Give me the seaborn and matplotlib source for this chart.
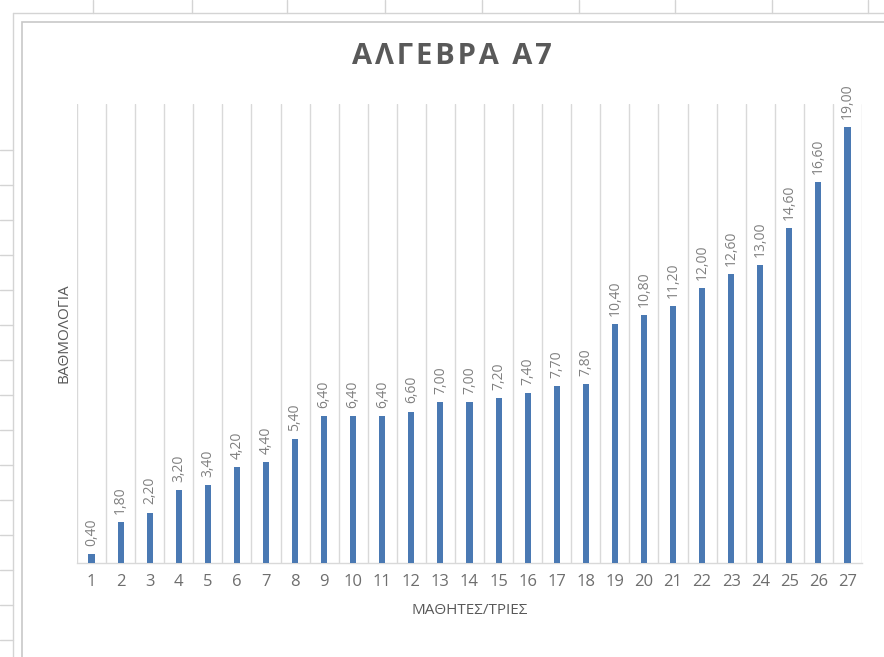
import matplotlib
matplotlib.use("Agg")
import matplotlib.pyplot as plt
import matplotlib.lines as mlines
import matplotlib.patches as mpatches
from matplotlib.ticker import FixedLocator
import seaborn as sns
import pandas as pd

students = [str(i) for i in range(1, 28)]
grades = [0.40, 1.80, 2.20, 3.20, 3.40, 4.20, 4.40, 5.40, 6.40, 6.40, 6.40, 6.60,
          7.00, 7.00, 7.20, 7.40, 7.70, 7.80, 10.40, 10.80, 11.20, 12.00, 12.60,
          13.00, 14.60, 16.60, 19.00]
title = "ΑΛΓΕΒΡΑ Α7"
xlabel = "ΜΑΘΗΤΕΣ/ΤΡΙΕΣ"
ylabel = "ΒΑΘΜΟΛΟΓΙΑ"

df = pd.DataFrame({"student": students, "grade": grades})

sns.set_theme(style="white")
plt.rcParams['font.family'] = ['Open Sans', 'DejaVu Sans']

W, H = 884, 657
fig = plt.figure(figsize=(W / 100, H / 100), dpi=100)
fig.patch.set_facecolor("white")

# spreadsheet-like background decorations
grid_c = "#D4D4D4"
for x in [93, 192, 287, 385, 482, 579, 675, 772, 868]:
    fig.add_artist(mlines.Line2D([x / W, x / W], [1, 1 - 13 / H], color=grid_c, lw=1))
for y in range(150, 657, 35):
    fig.add_artist(mlines.Line2D([0, 13 / W], [1 - y / H, 1 - y / H], color=grid_c, lw=1))
fig.add_artist(mlines.Line2D([13 / W, 13 / W], [0, 1 - 13 / H], color=grid_c, lw=1))
fig.add_artist(mlines.Line2D([13 / W, 1], [1 - 13 / H, 1 - 13 / H], color=grid_c, lw=1))
fig.add_artist(mpatches.Rectangle((22 / W, -0.01), 1.0, 1 - 22 / H + 0.01,
                                  transform=fig.transFigure, fill=False,
                                  edgecolor="#C8C8C8", lw=1.2))

ax = fig.add_axes([77 / W, 1 - 563 / H, (862 - 77) / W, (563 - 104) / H])
ax.set_facecolor("white")

sns.barplot(data=df, x="student", y="grade", color="#4A79B3", width=0.21,
            saturation=1, linewidth=0, ax=ax, zorder=3)

ax.set_ylim(0, 20)
ax.set_xlim(-0.5, len(students) - 0.5)

for i, v in enumerate(grades):
    ax.text(i, v + 0.35, f"{v:.2f}".replace(".", ","), rotation=90,
            ha="center", va="bottom", fontsize=10, color="#808080")

# vertical gridlines at category boundaries
ax.xaxis.set_minor_locator(FixedLocator([i - 0.5 for i in range(len(students) + 1)]))
ax.grid(which="minor", axis="x", color="#D9D9D9", lw=1, zorder=0)
ax.grid(which="major", visible=False)
ax.tick_params(axis="x", which="both", length=0, labelsize=12, labelcolor="#6E6E6E", pad=8)
ax.set_yticks([])
for s in ["top", "right", "left"]:
    ax.spines[s].set_visible(False)
ax.spines["bottom"].set_color("#D9D9D9")
ax.spines["bottom"].set_linewidth(1)

ax.set_xlabel(xlabel, fontsize=11, color="#595959", labelpad=9)
ax.set_ylabel(ylabel, fontsize=11, color="#595959", labelpad=4)

spaced_title = "\u200a".join(list(title))
fig.text(452 / W, 1 - 56 / H, spaced_title, ha="center", va="center",
         fontsize=21, fontweight="bold", color="#595959",
         family=["Open Sans", "DejaVu Sans"])

fig.savefig("out.png", dpi=100)
